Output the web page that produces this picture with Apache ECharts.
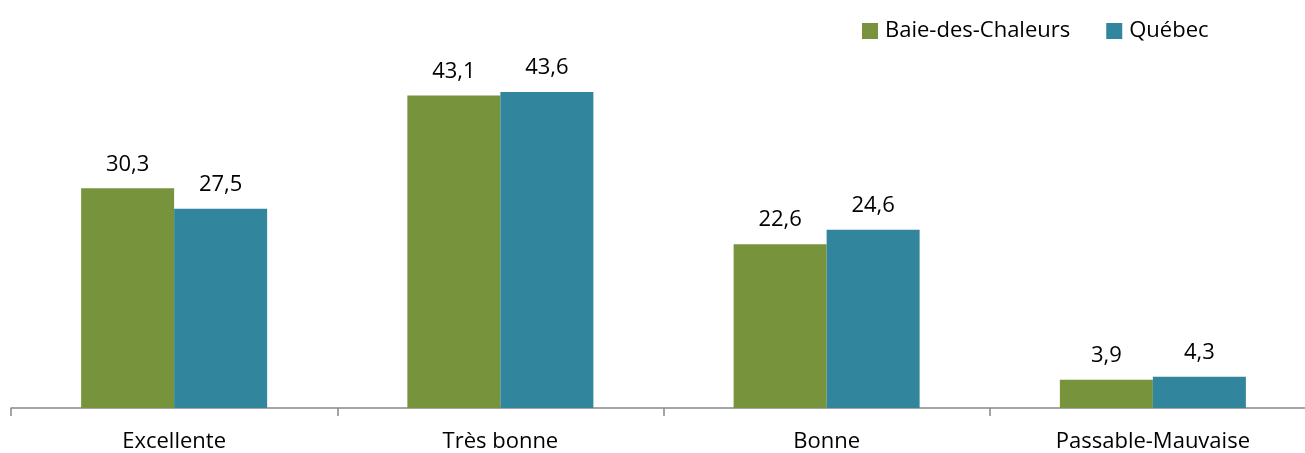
<!DOCTYPE html>
<html><head><meta charset="utf-8">
<script src="https://cdn.jsdelivr.net/npm/echarts@6/dist/echarts.min.js"></script>
<style>html,body{margin:0;padding:0;background:#fff;overflow:hidden}#c{width:1316px;height:453px}</style>
</head><body><div id="c"></div>
<script>
const categories = ['Excellente', 'Très bonne', 'Bonne', 'Passable-Mauvaise'];
const seriesNames = ['Baie-des-Chaleurs', 'Québec'];
const baieValues = [30.3, 43.1, 22.6, 3.9];
const quebecValues = [27.5, 43.6, 24.6, 4.3];
const colors = ['#77933C', '#31859C'];
const FONT = 'Open Sans';
const chart = echarts.init(document.getElementById('c'));
const lbl = {
  show: true, position: 'top', distance: 13,
  fontFamily: FONT, fontSize: 22, color: '#000',
  formatter: p => p.value.toFixed(1).replace('.', ',')
};
chart.setOption({
  animation: false,
  textStyle: { fontFamily: FONT },
  legend: {
    left: 857, top: 15, itemWidth: 16, itemHeight: 16, itemGap: 36,
    icon: 'rect',
    textStyle: { fontFamily: FONT, fontSize: 22, color: '#000', padding: [0, 0, 0, 2] },
    data: seriesNames
  },
  grid: { left: 11, right: 0, top: 45.5, bottom: 44, containLabel: false },
  xAxis: {
    type: 'category', data: categories,
    axisLine: { lineStyle: { color: '#888', width: 1.5 } },
    axisTick: { show: true, length: 8, lineStyle: { color: '#888', width: 1.5 } },
    axisLabel: { fontFamily: FONT, fontSize: 22, color: '#000', margin: 23 }
  },
  yAxis: { type: 'value', min: 0, max: 50, show: false, splitLine: { show: false } },
  series: [
    { name: seriesNames[0], type: 'bar', data: baieValues, barWidth: 93, barGap: '0%', itemStyle: { color: colors[0] }, label: lbl },
    { name: seriesNames[1], type: 'bar', data: quebecValues, barWidth: 93, barGap: '0%', itemStyle: { color: colors[1] }, label: lbl }
  ]
});
</script></body></html>
